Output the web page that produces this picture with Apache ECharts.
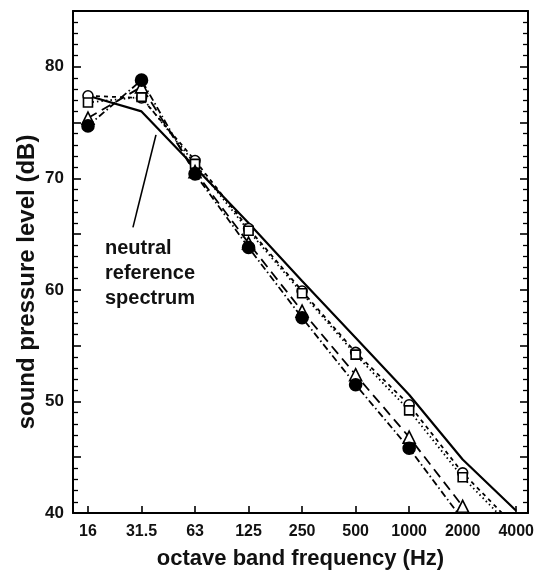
<!DOCTYPE html>
<html><head><meta charset="utf-8">
<script src="https://cdn.jsdelivr.net/npm/echarts@6/dist/echarts.min.js"></script>
<style>html,body{margin:0;padding:0;background:#fff}#c{width:537px;height:575px}</style>
</head><body><div id="c"></div>
<script>
const categories = ['16','31.5','63','125','250','500','1000','2000','4000'];
const reference = [77.4, 76.0, 71.0, 66.0, 60.8, 55.7, 50.6, 44.8, 40.2];
const openCircle = [77.4, 77.2, 71.6, 65.5, 59.9, 54.4, 49.7, 43.6, 38.7];
const openSquare = [76.8, 77.3, 71.3, 65.3, 59.7, 54.2, 49.2, 43.2, 38.3];
const filledCircle = [74.7, 78.8, 70.4, 63.8, 57.5, 51.5, 45.8, 39.4, null];
const openTriangle = [75.4, 78.2, 70.6, 64.2, 58.1, 52.4, 46.8, 40.6, null];
const yTicks = [40, 50, 60, 70, 80];
const annotation = ['neutral', 'reference', 'spectrum'];

const toPts = arr => arr.map((v, i) => [i, v]);
const font = 'Liberation Sans, Arial, sans-serif';
const chart = echarts.init(document.getElementById('c'));
const idx = categories.map((c, i) => i);

function line(name, data, type, symbol, size, fill) {
  return {
    name, type: 'line', data: toPts(data), symbol, symbolSize: size,
    showSymbol: symbol !== 'none',
    itemStyle: {color: fill, borderColor: '#000', borderWidth: 1.6},
    lineStyle: {color: '#000', width: type === 'solid' ? 2.2 : 1.8, type},
    z: 3, clip: true, animation: false
  };
}

const yAx = (right) => ({
  type: 'value', min: 40, max: 85, interval: 5, position: right ? 'right' : 'left',
  axisLine: {show: true, onZero: false, lineStyle: {color: '#000', width: 2}},
  axisTick: {show: true, inside: true, length: 8, lineStyle: {color: '#000', width: 1.6}},
  minorTick: {show: true, splitNumber: 5, length: 5, lineStyle: {color: '#000', width: 1.3}},
  axisLabel: right ? {show: false} : {formatter: v => yTicks.includes(v) ? String(v) : '', fontFamily: font, fontSize: 17, fontWeight: 'bold', color: '#111', margin: 9},
  splitLine: {show: false}, minorSplitLine: {show: false}
});

chart.setOption({
  animation: false,
  grid: {left: 73, top: 11, right: 6, bottom: 57},
  xAxis: [{
    type: 'value', min: -0.28, max: 8.22,
    name: 'octave band frequency (Hz)', nameLocation: 'middle', nameGap: 35,
    nameTextStyle: {fontFamily: font, fontSize: 22, fontWeight: 'bold', color: '#111'},
    axisLine: {show: true, onZero: false, lineStyle: {color: '#000', width: 2}},
    axisTick: {show: true, inside: true, length: 7, customValues: idx, lineStyle: {color: '#000', width: 1.6}},
    axisLabel: {customValues: idx, formatter: v => categories[Math.round(v)], fontFamily: font, fontSize: 16, fontWeight: 'bold', color: '#111', margin: 11},
    splitLine: {show: false}
  }, {
    type: 'value', min: -0.28, max: 8.22, position: 'top',
    axisLine: {show: true, onZero: false, lineStyle: {color: '#000', width: 2}},
    axisTick: {show: false}, axisLabel: {show: false}, splitLine: {show: false}
  }],
  yAxis: [yAx(false), yAx(true)],
  series: [
    Object.assign(line('neutral reference spectrum', reference, 'solid', 'none', 0, '#000'), {
      markLine: {
        silent: true, symbol: ['none', 'arrow'], symbolSize: [0, 10],
        lineStyle: {color: '#000', width: 1.6, type: 'solid'}, label: {show: false},
        data: [[{coord: [0.84, 65.6]}, {coord: [1.27, 73.9]}]]
      }
    }),
    line('open circle', openCircle, [4, 4], 'circle', 10, '#fff'),
    line('open square', openSquare, [1.5, 3], 'rect', 9, '#fff'),
    line('open triangle', openTriangle, [10, 6], 'triangle', 12, '#fff'),
    line('filled circle', filledCircle, [7, 3, 1.5, 3], 'circle', 12, '#000')
  ],
  graphic: [{
    type: 'text', left: 105, top: 236,
    style: {text: annotation.join('\n'), fontFamily: font, fontSize: 20, fontWeight: 'bold', lineHeight: 25, fill: '#111', textAlign: 'left'}
  }, {
    type: 'text', x: 27, y: 282, rotation: Math.PI / 2,
    style: {text: 'sound pressure level (dB)', fontFamily: font, fontSize: 24, fontWeight: 'bold', fill: '#111', textAlign: 'center', textVerticalAlign: 'middle'}
  }]
});
</script></body></html>
